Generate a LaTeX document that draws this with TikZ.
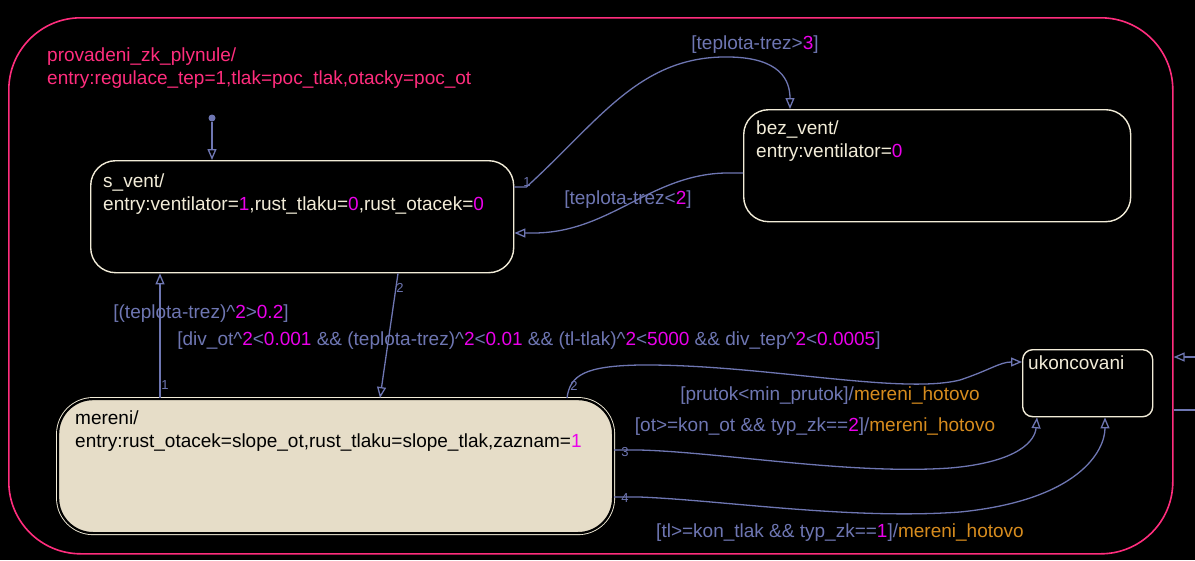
\documentclass[tikz,border=0pt]{standalone}
\usepackage{fontspec}
\setmainfont{Liberation Sans}
\usepackage{tikz}
\usetikzlibrary{positioning,arrows.meta}
\definecolor{cbg}{RGB}{0,0,0}
\definecolor{cchart}{RGB}{255,45,125}
\definecolor{cstate}{RGB}{242,236,216}
\definecolor{ctrans}{RGB}{110,118,178}
\definecolor{cnum}{RGB}{235,0,235}
\definecolor{cact}{RGB}{215,140,30}
\definecolor{cmer}{RGB}{230,221,200}
\newcommand{\nm}[1]{\textcolor{cnum}{#1}}
\newcommand{\act}[1]{\textcolor{cact}{#1}}

\begin{document}
\begin{tikzpicture}[x=1pt,y=-1pt,font=\fontsize{19}{23}\selectfont,
  chartbox/.style={draw=cchart,line width=1.6pt,rounded corners=72pt,anchor=north west,inner sep=0pt},
  state/.style={draw=cstate,line width=1.4pt,rounded corners=25pt,anchor=north west,inner sep=0pt},
  stxt/.style={text=cstate,align=left,inner sep=0pt,anchor=north west},
  trans/.style={-{Triangle[open,length=11pt,width=9pt]},ctrans,line width=1.3pt},
  cond/.style={text=ctrans,inner sep=1pt},
  prio/.style={text=ctrans,font=\fontsize{13}{13}\selectfont,inner sep=1pt},
]
\fill[cbg] (0,0) rectangle (1195,560);
\useasboundingbox (0,0) rectangle (1195,560);
\node[chartbox,minimum width=1164pt,minimum height=536pt] (chart) at (8,17) {};
\node[stxt,text=cchart] (title) at (47,48) {provadeni\_zk\_plynule/\\entry:regulace\_tep=1,tlak=poc\_tlak,otacky=poc\_ot};

% states
\node[state,minimum width=423pt,minimum height=112pt] (sv) at (90,160) {};
\node[stxt,below right=14pt and 13pt of sv.north west] (svtxt) {s\_vent/\\entry:ventilator=\nm{1},rust\_tlaku=\nm{0},rust\_otacek=\nm{0}};
\node[state,minimum width=387pt,minimum height=112pt] (bv) at (743,109) {};
\node[stxt,below right=12pt and 13pt of bv.north west] (bvtxt) {bez\_vent/\\entry:ventilator=\nm{0}};
\node[state,draw=black,fill=cmer,line width=2.2pt,rounded corners=35pt,minimum width=555pt,minimum height=134pt,
  preaction={draw=cstate,line width=4pt}] (mer) at (57,398) {};
\node[stxt,text=black,below right=13pt and 18pt of mer.north west] (mertxt) {mereni/\\entry:rust\_otacek=slope\_ot,rust\_tlaku=slope\_tlak,zaznam=\nm{1}};
\node[state,rounded corners=10pt,minimum width=130pt,minimum height=67pt] (uk) at (1022,349) {};
\node[stxt,below right=7pt and 6pt of uk.north west] (uktxt) {ukoncovani};

% default transition
\node[circle,fill=ctrans,inner sep=0pt,minimum size=7pt] (dflt) at (212,118) {};
\draw[trans] (dflt) -- (dflt |- sv.north);

% transitions
\draw[trans] ([yshift=-27pt]sv.north east) -- +(12,0) .. controls (600,120) and (640,55) .. (730,57) .. controls (780,58) and (790,80) .. ([xshift=47pt]bv.north west);
\node[prio] at (527,182) {1};
\node[cond] (c1) at (755,45) {[teplota-trez>\nm{3}]};

\draw[trans] ([yshift=-64pt]bv.north west) -- +(-18,0) .. controls (650,175) and (610,232) .. (535,233) -- ([yshift=-73pt]sv.north east);
\node[cond] (c2) at (628,200) {[teplota-trez<\nm{2}]};

\draw[trans] ([xshift=103pt]mer.north west) -- ([xshift=70pt]sv.south west);
\node[prio] at (165,385) {1};
\node[cond] (c3) at (201,314) {[(teplota-trez)\textasciicircum\nm{2}>\nm{0.2}]};

\draw[trans] ([xshift=308pt]sv.south west) -- ([xshift=323pt]mer.north west);
\node[prio] at (400,288) {2};
\node[cond] (c4) at (529,341) {[div\_ot\textasciicircum\nm{2}<\nm{0.001} \&\& (teplota-trez)\textasciicircum\nm{2}<\nm{0.01} \&\& (tl-tlak)\textasciicircum\nm{2}<\nm{5000} \&\& div\_tep\textasciicircum\nm{2}<\nm{0.0005}]};

\draw[trans] ([xshift=510pt]mer.north west) .. controls (570,375) and (585,366) .. (640,365) .. controls (760,364) and (900,395) .. (960,380) .. controls (990,370) and (1000,362) .. ([yshift=-13pt]uk.north west);
\node[prio] at (574,386) {2};
\node[cond] (c5) at (830,396) {[prutok<min\_prutok]/\act{mereni\_hotovo}};

\draw[trans] ([yshift=-52pt]mer.north east) -- +(25,0) .. controls (720,452) and (850,475) .. (950,468) .. controls (1020,462) and (1035,440) .. ([xshift=15pt]uk.south west);
\node[prio] at (625,452) {3};
\node[cond] (c6) at (815,427) {[ot>=kon\_ot \&\& typ\_zk==\nm{2}]/\act{mereni\_hotovo}};

\draw[trans] ([yshift=-99pt]mer.north east) -- +(25,0) .. controls (720,500) and (850,520) .. (960,512) .. controls (1080,500) and (1105,450) .. ([xshift=83pt]uk.south west);
\node[prio] at (625,498) {4};
\node[cond] (c7) at (840,533) {[tl>=kon\_tlak \&\& typ\_zk==\nm{1}]/\act{mereni\_hotovo}};

% outer level
\coordinate (outin) at (1195,357);
\coordinate (outout) at (1195,410);
\draw[trans] (outin) -- (chart.east |- outin);
\draw[ctrans,line width=1.3pt] (chart.east |- outout) -- (outout);
\end{tikzpicture}
\end{document}
